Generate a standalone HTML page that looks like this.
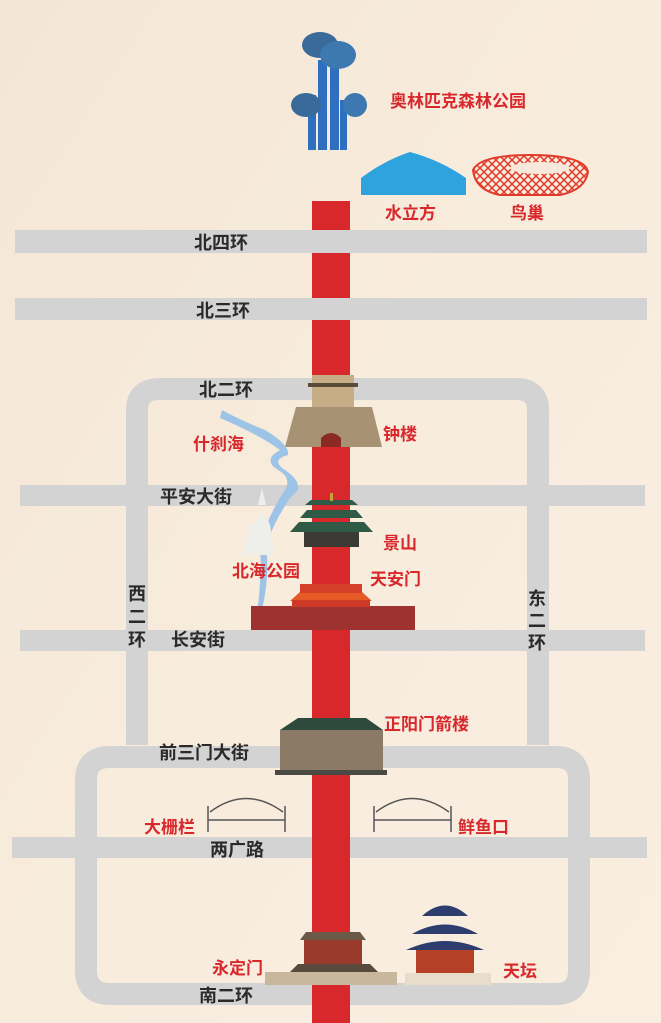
<!DOCTYPE html>
<html><head><meta charset="utf-8"><style>
html,body{margin:0;padding:0;width:661px;height:1023px;overflow:hidden}
svg{display:block}
text{font-family:"Liberation Sans","Noto Sans CJK SC",sans-serif;font-weight:bold}
.r{fill:#d8282c;font-size:17px}
.k{fill:#2a2a2a;font-size:18px}
</style></head><body>
<svg width="661" height="1023" viewBox="0 0 661 1023" xmlns="http://www.w3.org/2000/svg">
<defs><linearGradient id="bg" x1="0" y1="0" x2="1" y2="1"><stop offset="0" stop-color="#f4e6d6"/><stop offset="0.5" stop-color="#f8ecdd"/><stop offset="1" stop-color="#f9eedf"/></linearGradient>
<pattern id="mesh" width="8" height="8" patternUnits="userSpaceOnUse"><path d="M0,0 L8,8 M8,0 L0,8" stroke="#e23a2a" stroke-width="1.5"/></pattern></defs>
<rect width="661" height="1023" fill="url(#bg)"/>
<!-- roads -->
<g fill="none" stroke="#d3d3d3" stroke-width="22">
<path d="M137,745 V410 Q137,389 160,389 H516 Q538,389 538,410 V745"/>
<path d="M110,757 H556 Q579,757 579,780 V970 Q579,994 556,994 H110 Q86,994 86,970 V780 Q86,757 110,757 Z"/>
</g>
<g fill="#d3d3d3">
<rect x="15" y="230" width="632" height="23"/>
<rect x="15" y="298" width="632" height="22"/>
<rect x="20" y="485" width="625" height="21"/>
<rect x="20" y="630" width="625" height="21"/>
<rect x="12" y="837" width="635" height="21"/>
</g>
<!-- red axis -->
<rect x="312" y="201" width="38" height="29" fill="#d8282c"/>
<rect x="312" y="253" width="38" height="45" fill="#d8282c"/>
<rect x="312" y="320" width="38" height="703" fill="#d8282c"/>
<!-- Olympic tower -->
<g fill="#2f6fc0">
<rect x="318" y="60" width="9" height="90"/><rect x="330" y="55" width="9" height="95"/><rect x="308" y="95" width="8" height="55"/><rect x="340" y="100" width="7" height="50"/>
<ellipse cx="320" cy="45" rx="18" ry="13" fill="#3a6a9a"/><ellipse cx="338" cy="55" rx="18" ry="14" fill="#3d78b0"/><ellipse cx="306" cy="105" rx="15" ry="12" fill="#3a6a9a"/><ellipse cx="355" cy="105" rx="12" ry="12" fill="#3d78b0"/>
</g>
<!-- water cube -->
<path d="M361,195 V178 Q385,160 410,152 Q440,160 466,178 V195 Z" fill="#2fa3de"/>
<!-- bird nest -->
<path d="M473,170 Q480,155 530,155 Q585,155 588,172 Q585,190 560,195 H500 Q475,190 473,170 Z" fill="url(#mesh)" stroke="#e23a2a" stroke-width="2"/>
<ellipse cx="540" cy="168" rx="30" ry="6" fill="#f6e8da"/>
<!-- shichahai water -->
<path d="M222,410 Q240,420 265,430 Q290,445 288,455 Q270,460 285,470 Q300,480 298,490 L290,498 Q275,520 266,545 Q270,575 262,610 L258,606 Q262,570 260,545 Q268,515 285,490 Q292,478 278,470 Q262,460 280,450 Q260,435 220,418 Z" fill="#9dc3e6"/>
<!-- bell tower -->
<rect x="312" y="375" width="42" height="32" fill="#c7ad86"/>
<rect x="308" y="383" width="50" height="4" fill="#5a4a3a"/>
<path d="M296,407 H372 L382,447 H285 Z" fill="#a89274"/>
<path d="M321,447 V438 Q331,428 341,438 V447 Z" fill="#8b2a22"/>
<!-- white dagoba -->
<path d="M262,488 L266,505 H258 Z M254,525 Q262,505 270,525 L274,555 H242 L250,525 Z" fill="#eeeeea"/>
<!-- jingshan -->
<path d="M305,505 H358 L352,500 H311 Z M300,518 H363 L356,510 H307 Z M290,532 H373 L364,522 H299 Z" fill="#2f5a46"/>
<rect x="304" y="532" width="55" height="15" fill="#3b3b33"/>
<rect x="330" y="493" width="3" height="8" fill="#c7a13a"/>
<!-- tiananmen -->
<path d="M300,592 H362 L372,601 H290 Z" fill="#e55a25"/>
<rect x="300" y="584" width="62" height="9" fill="#d6402a"/>
<rect x="251" y="606" width="164" height="24" fill="#9e3230"/>
<rect x="292" y="600" width="78" height="7" fill="#cf3a28"/>
<!-- zhengyangmen -->
<path d="M280,730 L298,718 H366 L383,730 Z" fill="#2e4a3c"/>
<rect x="280" y="730" width="103" height="40" fill="#8a7a66"/>
<rect x="275" y="770" width="112" height="5" fill="#4a4a44"/>
<!-- dashilar / xianyukou -->
<g fill="none" stroke="#555" stroke-width="1.5">
<path d="M208,806 V832 M285,806 V832 M208,820 H285 M210,812 Q246,785 283,812"/>
<path d="M374,806 V832 M451,806 V832 M374,820 H451 M376,812 Q412,785 449,812"/>
</g>
<!-- yongdingmen -->
<path d="M300,940 H366 L360,932 H306 Z" fill="#6b5a48"/>
<rect x="304" y="940" width="58" height="28" fill="#9a3a2c"/>
<path d="M290,972 H378 L370,964 H298 Z" fill="#5a4a3e"/>
<rect x="265" y="972" width="132" height="13" fill="#c8b79c"/>
<!-- temple of heaven -->
<path d="M422,916 Q445,895 468,916 Z M412,934 Q445,915 478,934 Z M406,950 Q445,932 484,950 Z" fill="#2c3d6e"/>
<rect x="416" y="950" width="58" height="23" fill="#b54028"/>
<rect x="405" y="973" width="86" height="12" fill="#e8dccb"/>
<!-- labels -->
<text class="r" x="390" y="107">奥林匹克森林公园</text>
<text class="r" x="385" y="219">水立方</text>
<text class="r" x="510" y="219">鸟巢</text>
<text class="k" x="194" y="249">北四环</text>
<text class="k" x="196" y="317">北三环</text>
<text class="k" x="199" y="396">北二环</text>
<text class="r" x="383" y="440">钟楼</text>
<text class="r" x="193" y="450">什刹海</text>
<text class="k" x="160" y="503">平安大街</text>
<text class="r" x="383" y="549">景山</text>
<text class="r" x="232" y="577">北海公园</text>
<text class="r" x="370" y="585">天安门</text>
<text class="k" x="128" y="600">西</text><text class="k" x="128" y="623">二</text><text class="k" x="128" y="646">环</text>
<text class="k" x="528" y="605">东</text><text class="k" x="528" y="627">二</text><text class="k" x="528" y="649">环</text>
<text class="k" x="171" y="646">长安街</text>
<text class="r" x="384" y="730">正阳门箭楼</text>
<text class="k" x="159" y="759">前三门大街</text>
<text class="r" x="144" y="833">大栅栏</text>
<text class="r" x="458" y="833">鲜鱼口</text>
<text class="k" x="210" y="856">两广路</text>
<text class="r" x="212" y="974">永定门</text>
<text class="r" x="503" y="977">天坛</text>
<text class="k" x="199" y="1002">南二环</text>
</svg>
</body></html>
